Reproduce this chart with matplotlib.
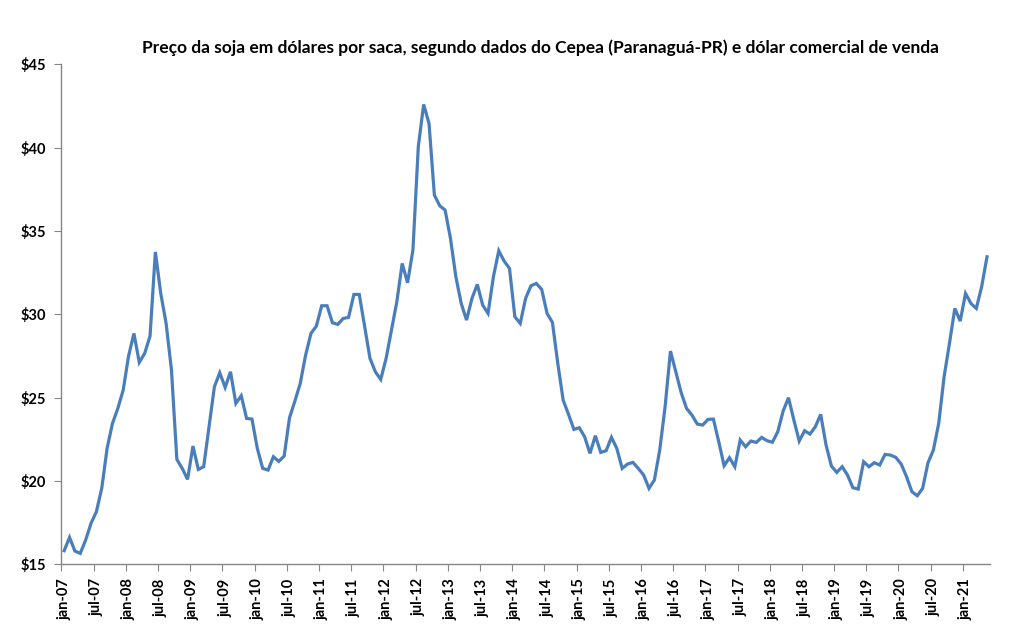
import numpy as np
import matplotlib
matplotlib.use('Agg')
import matplotlib.pyplot as plt
from matplotlib.ticker import FuncFormatter

# monthly soybean price in US$ per bag, jan-07 .. may-21
precos = [
    15.82, 16.62, 15.80, 15.66, 16.46, 17.46, 18.16, 19.56, 21.96, 23.46, 24.36, 25.46,
    27.50, 28.86, 27.12, 27.66, 28.70, 33.75, 31.26, 29.46, 26.66, 21.30, 20.76, 20.10,
    22.10, 20.70, 20.86, 23.26, 25.66, 26.50, 25.62, 26.56, 24.66, 25.12, 23.76, 23.72,
    21.96, 20.76, 20.66, 21.46, 21.18, 21.50, 23.80, 24.80, 25.86, 27.56, 28.86, 29.30,
    30.52, 30.52, 29.50, 29.40, 29.76, 29.82, 31.20, 31.20, 29.26, 27.36, 26.56, 26.10,
    27.36, 29.06, 30.76, 33.06, 31.90, 33.86, 40.06, 42.60, 41.46, 37.16, 36.52, 36.26,
    34.56, 32.26, 30.66, 29.66, 30.96, 31.80, 30.56, 30.06, 32.26, 33.82, 33.20, 32.76,
    29.86, 29.46, 30.96, 31.72, 31.86, 31.50, 30.06, 29.52, 27.06, 24.86, 24.00, 23.10,
    23.20, 22.66, 21.66, 22.72, 21.72, 21.82, 22.62, 21.96, 20.76, 21.02, 21.12, 20.76,
    20.36, 19.56, 20.06, 21.86, 24.46, 27.80, 26.56, 25.30, 24.36, 23.96, 23.42, 23.36,
    23.70, 23.72, 22.36, 20.92, 21.40, 20.86, 22.46, 22.06, 22.40, 22.32, 22.62, 22.42,
    22.33, 22.96, 24.20, 25.00, 23.66, 22.40, 23.02, 22.82, 23.26, 24.00, 22.16, 20.90,
    20.52, 20.86, 20.36, 19.60, 19.52, 21.16, 20.86, 21.10, 20.96, 21.60, 21.56, 21.42,
    21.02, 20.26, 19.36, 19.12, 19.56, 21.10, 21.86, 23.46, 26.26, 28.26, 30.36, 29.60,
    31.26, 30.66, 30.36, 31.66, 33.46,
]

meses = ['jan', 'fev', 'mar', 'abr', 'mai', 'jun', 'jul', 'ago', 'set', 'out', 'nov', 'dez']
rotulos = [f'{meses[i % 12]}-{7 + i // 12:02d}' for i in range(len(precos))]
titulo = 'Preço da soja em dólares por saca, segundo dados do Cepea (Paranaguá-PR) e dólar comercial de venda'

plt.rcParams['font.family'] = ['Lato', 'DejaVu Sans']

fig = plt.figure(figsize=(10.13, 6.32), dpi=100)
ax = fig.add_axes([0.0607, 0.107, 0.9163, 0.791])

x = np.arange(len(precos))
ax.plot(x, precos, color='#4A7EBB', linewidth=2.3, solid_joinstyle='miter')

ax.set_xlim(-0.5, len(precos) - 0.5)
ax.set_ylim(15, 45)
ax.set_yticks(np.arange(15, 46, 5))
ax.yaxis.set_major_formatter(FuncFormatter(lambda v, p: f'${v:.0f}'))

# tick marks between categories, labels centred on the category
ax.set_xticks(np.arange(-0.5, len(precos), 6))
ax.set_xticklabels([])
ax.set_xticks(np.arange(0, len(precos), 6), minor=True)
ax.set_xticklabels([rotulos[i] for i in range(0, len(precos), 6)], minor=True,
                   rotation=90, fontsize=10.5, fontweight='bold')
ax.tick_params(axis='x', which='minor', length=0, pad=10)
ax.tick_params(axis='x', which='major', length=5, color='#868686')
ax.tick_params(axis='y', length=5, color='#868686', labelsize=10.5, pad=6)
for lab in ax.get_yticklabels():
    lab.set_fontweight('bold')

for s in ['top', 'right']:
    ax.spines[s].set_visible(False)
for s in ['left', 'bottom']:
    ax.spines[s].set_color('#868686')
    ax.spines[s].set_linewidth(1.0)

fig.text(0.534, 0.925, titulo, ha='center', va='center', fontsize=12.5, fontweight='bold')

fig.savefig('out.png', dpi=100)
